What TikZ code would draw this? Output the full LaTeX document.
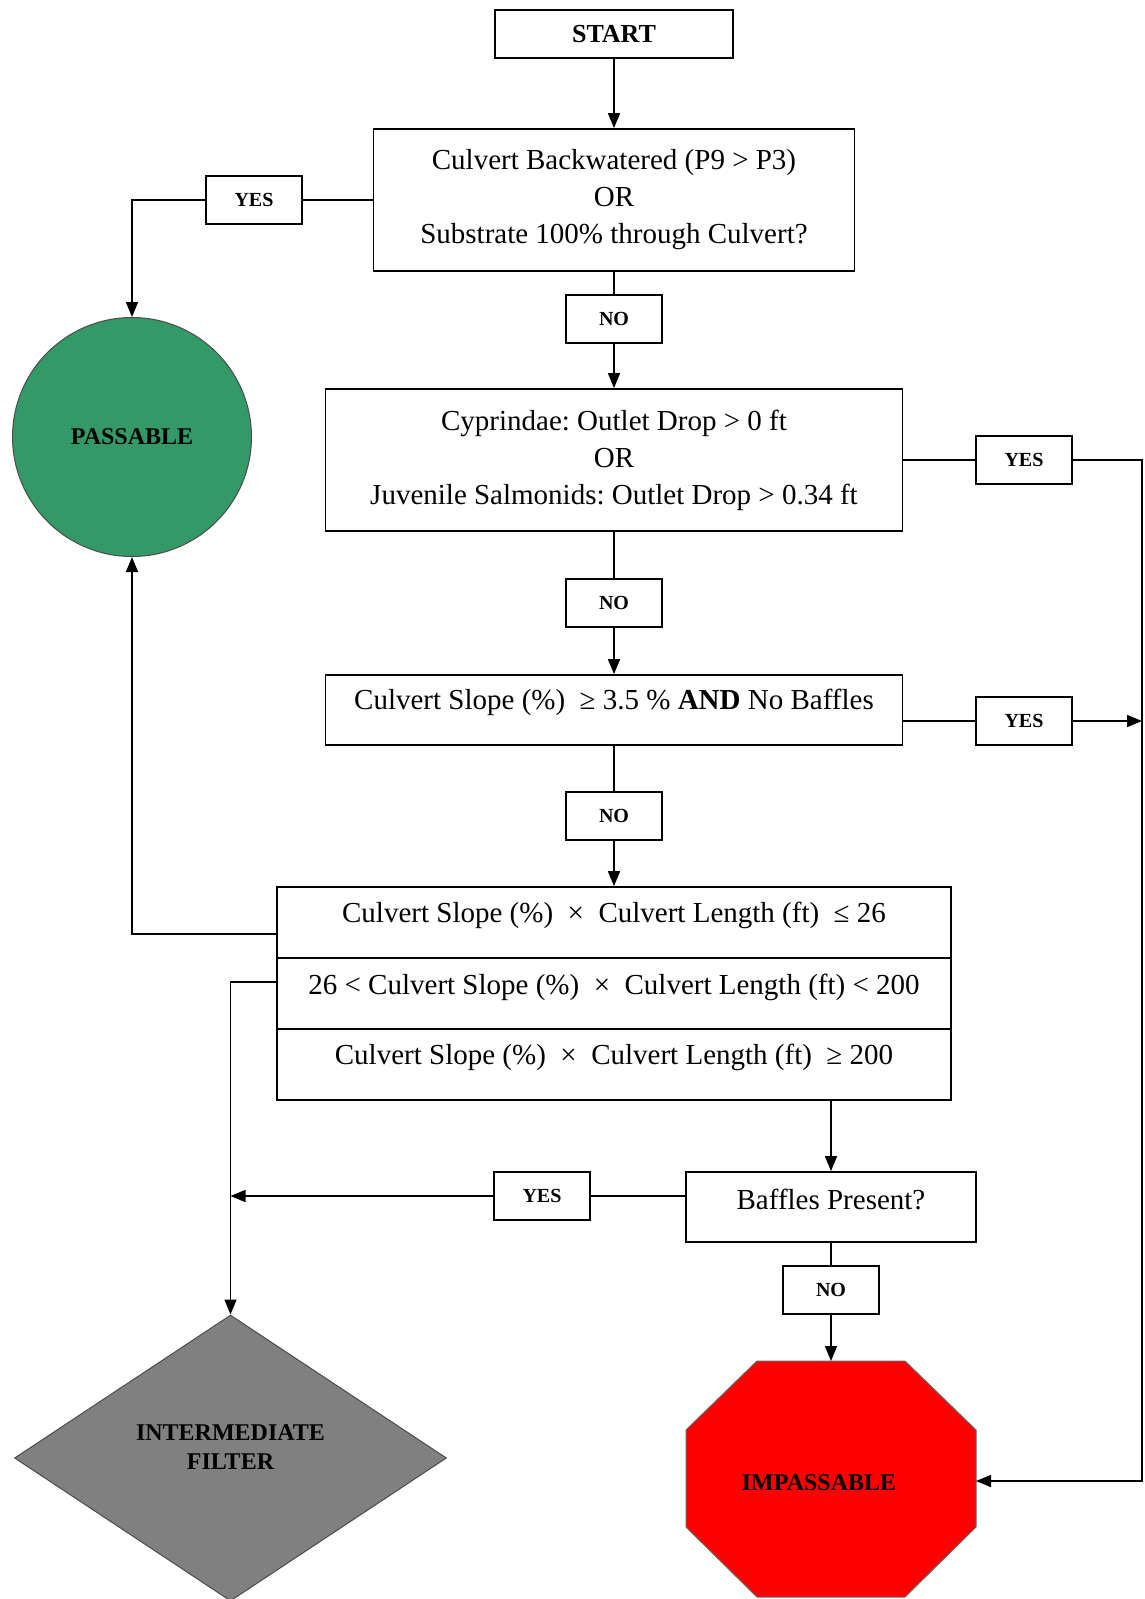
\documentclass[tikz,border=0pt]{standalone}
\usepackage{fontspec}
\setmainfont{Liberation Serif}
\usetikzlibrary{shapes.geometric,arrows.meta}
\definecolor{passgreen}{RGB}{51,153,102}
\definecolor{impred}{RGB}{255,0,0}
\definecolor{midgray}{RGB}{128,128,128}
\frenchspacing
\begin{document}
\begin{tikzpicture}[x=1pt,y=-1pt,
  box/.style={draw,line width=1.8pt,fill=white,inner sep=0pt},
  lbl/.style={draw,line width=1.8pt,fill=white,minimum width=96pt,minimum height=48pt,inner sep=0pt,font=\fontsize{20}{24}\selectfont\bfseries},
  txt/.style={font=\fontsize{29}{37}\selectfont,align=center,inner sep=0pt},
  big/.style={font=\fontsize{24}{29}\selectfont\bfseries,align=center,inner sep=0pt},
  conn/.style={line width=1.6pt},
  arr/.style={conn,-{Triangle[length=15pt,width=12pt]}}
]
\useasboundingbox (0,0) rectangle (1144,1599);
\fill[white] (0,0) rectangle (1144,1599);

% nodes
\node[box,minimum width=238pt,minimum height=48pt,font=\fontsize{26}{30}\selectfont\bfseries] (start) at (614,34) {START};
\node[box,txt,minimum width=481pt,minimum height=142pt] (b1) at (614,200)
  {Culvert Backwatered (P9 > P3)\\OR\\Substrate 100\% through Culvert?};
\node[lbl] (yes1) at (254,200) {YES};
\node[circle,fill=passgreen,draw=black!70,line width=1pt,minimum size=239pt,inner sep=0pt,big] (pass) at (132,437) {PASSABLE};
\node[lbl] (no1) at (614,319) {NO};
\node[box,txt,minimum width=577pt,minimum height=142pt] (b2) at (614,460)
  {Cyprindae: Outlet Drop > 0 ft\\OR\\Juvenile Salmonids: Outlet Drop > 0.34 ft};
\node[lbl] (yes2) at (1024,460) {YES};
\node[lbl] (no2) at (614,603) {NO};
\node[box,minimum width=577pt,minimum height=70pt] (b3) at (614,710) {};
\node[txt] (b3t) at (614,702) {Culvert Slope (\%) \ ≥ 3.5 \% \textbf{AND} No Baffles};
\node[lbl] (yes3) at (1024,721) {YES};
\node[lbl] (no3) at (614,816) {NO};
\node[box,minimum width=674pt,minimum height=71pt] (r1) at (614,922.5) {};
\node[box,minimum width=674pt,minimum height=71pt] (r2) at (614,993.5) {};
\node[box,minimum width=674pt,minimum height=71pt] (r3) at (614,1064.5) {};
\node[txt] (r1t) at (614,915) {Culvert Slope (\%) \ × \ Culvert Length (ft) \ ≤ 26};
\node[txt] (r2t) at (614,987) {26 < Culvert Slope (\%) \ × \ Culvert Length (ft) < 200};
\node[txt] (r3t) at (614,1057) {Culvert Slope (\%) \ × \ Culvert Length (ft) \ ≥ 200};
\node[box,minimum width=290pt,minimum height=70pt] (baf) at (831,1207) {};
\node[txt] (baft) at (831,1199) {Baffles Present?};
\node[lbl] (yes4) at (542,1196) {YES};
\node[lbl] (no4) at (831,1290) {NO};
\node[diamond,fill=midgray,draw=black!70,line width=1pt,minimum width=432pt,minimum height=286pt,inner sep=0pt] (dia) at (230.5,1458) {};
\node[big] (diat) at (230.5,1447) {INTERMEDIATE\\FILTER};
\filldraw[fill=impred,draw=black!60,line width=1pt]
  (757,1361) -- (905,1361) -- (976,1430) -- (976,1527) -- (905,1597) -- (757,1597) -- (686,1527) -- (686,1430) -- cycle;
\coordinate (impT) at (831,1361);
\coordinate (impR) at (976,1481);
\node[big] (imp) at (819,1483) {IMPASSABLE};
\coordinate (rtop) at (1142,460);
\coordinate (rmid) at (1142,721);

% connectors
\draw[arr] (start) -- (b1);
\draw[conn] (b1) -- (no1);
\draw[arr] (no1) -- (b2);
\draw[conn] (b1.west) -- (yes1.east);
\draw[arr] (yes1.west) -| (pass.north);
\draw[conn] (b2.east) -- (yes2.west);
\draw[arr] (yes2.east) -- (rtop) |- (impR);
\draw[conn] (b2) -- (no2);
\draw[arr] (no2) -- (b3);
\draw[conn] (b3.east |- yes3) -- (yes3.west);
\draw[arr] (yes3.east) -- (rmid);
\draw[conn] (b3) -- (no3);
\draw[arr] (no3) -- (r1);
\draw[arr] (r1.west |- 0,934) -| (pass.south);
\draw[arr] (r2.west |- 0,982) -| (dia.north);
\draw[arr] (baf.north |- r3.south) -- (baf.north);
\draw[conn] (baf.west |- yes4) -- (yes4.east);
\draw[arr] (yes4.west) -- (yes4.west -| dia.north);
\draw[conn] (baf) -- (no4);
\draw[arr] (no4) -- (impT);
\end{tikzpicture}
\end{document}
